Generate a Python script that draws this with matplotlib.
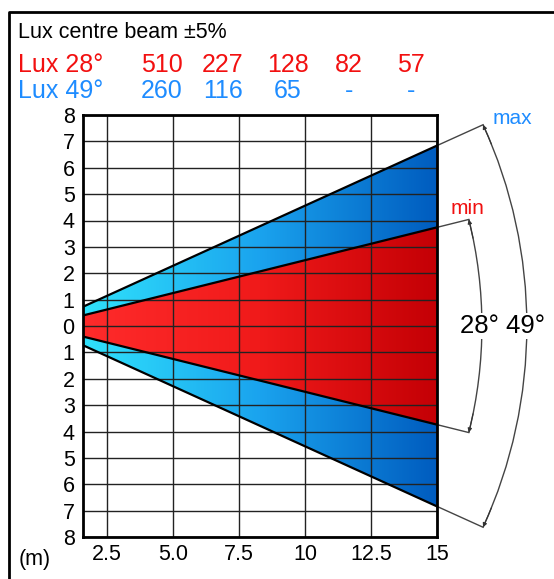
import numpy as np
import matplotlib
matplotlib.use("Agg")
import matplotlib.pyplot as plt
from matplotlib.patches import Polygon, Arc
from matplotlib.colors import LinearSegmentedColormap

plt.rcParams['font.family'] = ['Liberation Sans', 'DejaVu Sans']

# lux at distance (m) 5, 7.5, 10, 12.5, 15
lux_28 = ['510', '227', '128', '82', '57']
lux_49 = ['260', '116', '65', '-', '-']

# beam edges: x (m) and half width (m)
beam_x = [1.6, 15]
edge_49 = [0.73, 6.84]
edge_28 = [0.40, 3.74]

x_ticks = [2.5, 5.0, 7.5, 10, 12.5, 15]
x_labels = ['2.5', '5.0', '7.5', '10', '12.5', '15']
y_ticks = list(range(-8, 9))
y_labels = [str(abs(v)) for v in y_ticks]

W, H = 554, 579
fig = plt.figure(figsize=(W / 100, H / 100), dpi=100)
ax = fig.add_axes([83 / W, 1 - 537 / H, 354 / W, 422 / H])

xmin, xmax = beam_x[0], beam_x[1]


def wedge(edge):
    return [(beam_x[0], edge[0]), (beam_x[1], edge[1]),
            (beam_x[1], -edge[1]), (beam_x[0], -edge[0])]


def gradient_fill(pts, colors):
    poly = Polygon(pts, closed=True, facecolor='none', edgecolor='none')
    ax.add_patch(poly)
    cmap = LinearSegmentedColormap.from_list('g', colors)
    img = ax.imshow(np.linspace(0, 1, 256).reshape(1, -1), cmap=cmap,
                    extent=[xmin, xmax, -8, 8], aspect='auto', zorder=1,
                    interpolation='bilinear')
    img.set_clip_path(poly)


gradient_fill(wedge(edge_49), ['#30e2fc', '#1aa3ee', '#005cbf'])
gradient_fill(wedge(edge_28), ['#ff2b2b', '#f01a1a', '#c40005'])

for edge in (edge_49, edge_28):
    ax.plot(beam_x, edge, color='black', lw=1.6, zorder=3)
    ax.plot(beam_x, [-e for e in edge], color='black', lw=1.6, zorder=3)

ax.set_xlim(xmin, xmax)
ax.set_ylim(-8, 8)
ax.set_xticks(x_ticks)
ax.set_xticklabels(x_labels, fontsize=15.5)
ax.set_yticks(y_ticks)
ax.set_yticklabels(y_labels, fontsize=15.5)
ax.tick_params(length=0, pad=5)
ax.tick_params(axis='y', pad=6)
ax.grid(True, color='#222222', lw=1)
ax.set_axisbelow(False)
for s in ax.spines.values():
    s.set_linewidth(2)
    s.set_zorder(4)

# angle arcs, centred on the beam origin
for r, half, lbl, col, lpos in [(18.4, 24.5, 'max', '#1e8cff', (512, 118)),
                                (16.7, 14.0, 'min', '#f01010', (468, 208))]:
    ax.add_patch(Arc((0, 0), 2 * r, 2 * r, theta1=-half, theta2=half,
                     color='#444444', lw=1, clip_on=False, zorder=3))
    t = np.radians(half)
    edge = edge_49 if half > 20 else edge_28
    for sgn in (1, -1):
        ax.plot([beam_x[1], r * np.cos(t)], [sgn * edge[1], sgn * r * np.sin(t)],
                color='#444444', lw=1, clip_on=False, zorder=3)
        t2 = np.radians(half - 2.5)
        ax.annotate('', xy=(r * np.cos(t), sgn * r * np.sin(t)),
                    xytext=(r * np.cos(t2), sgn * r * np.sin(t2)),
                    arrowprops=dict(arrowstyle='-|>', color='#333333', lw=0.8,
                                    mutation_scale=6, shrinkA=0, shrinkB=0),
                    annotation_clip=False)
    fig.text(lpos[0] / W, 1 - lpos[1] / H, lbl, color=col, fontsize=15,
             ha='center', va='center')

fig.text(503 / W, 1 - 326 / H, '28° 49°', fontsize=18.5, ha='center',
         va='center', bbox=dict(facecolor='white', edgecolor='none', pad=0.5),
         zorder=5)

# header
fig.text(18 / W, 1 - 38 / H, 'Lux centre beam \u00b15%', fontsize=15.5,
         va='baseline')
fig.text(18 / W, 1 - 72 / H, 'Lux 28°', fontsize=18, color='#f21010',
         va='baseline')
fig.text(18 / W, 1 - 98 / H, 'Lux 49°', fontsize=18, color='#1e8cff',
         va='baseline')
cols = [162, 223, 288, 349, 411]
for cx, a, b in zip(cols, lux_28, lux_49):
    fig.text(cx / W, 1 - 72 / H, a, fontsize=18, color='#f21010',
             ha='center', va='baseline')
    fig.text(cx / W, 1 - 98 / H, b, fontsize=18, color='#1e8cff',
             ha='center', va='baseline')

fig.text(35 / W, 1 - 560 / H, '(m)', fontsize=15.5, ha='center', va='center')

# outer frame
fig.add_artist(plt.Line2D([9 / W, 9 / W, 1], [0, 1 - 12 / H, 1 - 12 / H],
                          color='black', lw=2, transform=fig.transFigure))

fig.savefig('out.png', dpi=100)
